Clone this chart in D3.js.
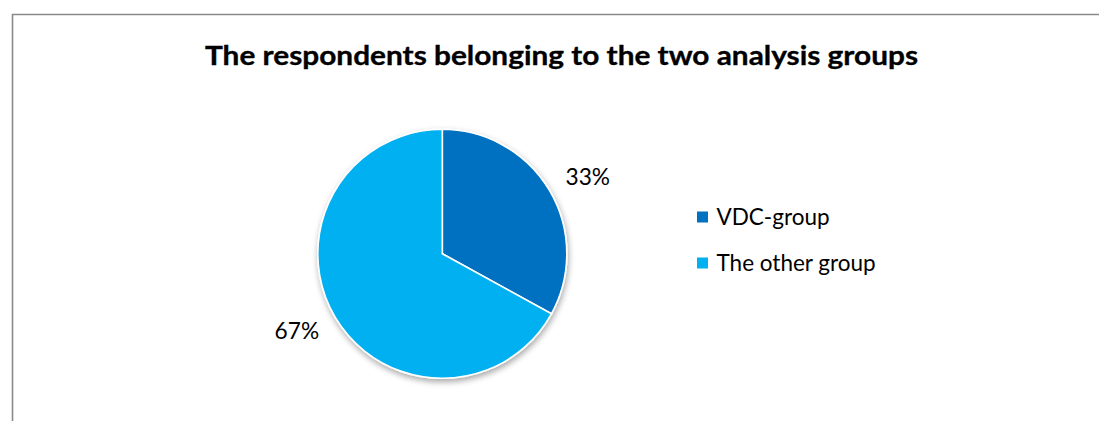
<!DOCTYPE html>
<html>
<head>
<meta charset="utf-8">
<script src="https://cdn.jsdelivr.net/npm/d3@7"></script>
<style>
  html, body { margin: 0; padding: 0; background: #ffffff; }
  svg { display: block; }
</style>
</head>
<body>
<svg id="chart" width="1099" height="421"></svg>
<script>
// Chart data
const title = "The respondents belonging to the two analysis groups";
const groups = ["VDC-group", "The other group"];
const shares = [33, 67];
const groupColors = ["#0070C0", "#00B0F0"];

const svg = d3.select("#chart");
const W = 1099, H = 421;

// Chart frame (only top and left edges fall inside the view)
svg.append("path")
  .attr("d", `M12.5,${H + 5} L12.5,14.5 L${W + 5},14.5`)
  .attr("fill", "none")
  .attr("stroke", "#8a8a8a")
  .attr("stroke-width", 1.6);

// Title
svg.append("text")
  .attr("x", 561.5)
  .attr("y", 64.5)
  .attr("text-anchor", "middle")
  .attr("font-family", "Lato, 'Open Sans', sans-serif")
  .attr("font-weight", 700)
  .attr("font-size", 27.5)
  .attr("fill", "#000")
  .attr("stroke", "#000")
  .attr("stroke-width", 0.35)
  .attr("textLength", 713)
  .attr("lengthAdjust", "spacingAndGlyphs")
  .text(title);

// Soft shadow under the pie
const defs = svg.append("defs");
const f = defs.append("filter").attr("id", "pieShadow")
  .attr("x", "-20%").attr("y", "-20%").attr("width", "140%").attr("height", "140%");
f.append("feGaussianBlur").attr("in", "SourceAlpha").attr("stdDeviation", 3).attr("result", "b");
f.append("feOffset").attr("in", "b").attr("dx", 1).attr("dy", 3).attr("result", "o");
f.append("feComponentTransfer").attr("in", "o").attr("result", "s")
  .append("feFuncA").attr("type", "linear").attr("slope", 0.35);
const m = f.append("feMerge");
m.append("feMergeNode").attr("in", "s");
m.append("feMergeNode").attr("in", "SourceGraphic");

// Pie
const cx = 442.3, cy = 253.8, r = 124.5;
const pie = d3.pie().sort(null).value(d => d)(shares);
const arc = d3.arc().innerRadius(0).outerRadius(r);
const color = d3.scaleOrdinal().domain(groups).range(groupColors);

const g = svg.append("g").attr("transform", `translate(${cx},${cy})`);
g.append("g").attr("filter", "url(#pieShadow)")
  .selectAll("path")
  .data(pie)
  .join("path")
  .attr("d", arc)
  .attr("fill", (d, i) => color(groups[i]))
  .attr("stroke", "#ffffff")
  .attr("stroke-width", 1.6)
  .attr("stroke-linejoin", "round");

// Percentage labels, placed just outside each slice along its mid-angle
const lrx = 169, lry = 151;
g.selectAll("text.pct")
  .data(pie)
  .join("text")
  .attr("class", "pct")
  .attr("x", d => Math.sin((d.startAngle + d.endAngle) / 2) * lrx)
  .attr("y", d => -Math.cos((d.startAngle + d.endAngle) / 2) * lry)
  .attr("dy", "0.36em")
  .attr("text-anchor", "middle")
  .attr("font-family", "Lato, 'Open Sans', sans-serif")
  .attr("font-size", 22.7)
  .attr("fill", "#000")
  .text(d => d.data + "%");

// Legend
const legend = svg.append("g").attr("transform", "translate(697,217)");
const row = legend.selectAll("g")
  .data(groups)
  .join("g")
  .attr("transform", (d, i) => `translate(0,${i * 46})`);
row.append("rect")
  .attr("x", 0).attr("y", -5.5)
  .attr("width", 11).attr("height", 11)
  .attr("fill", d => color(d));
row.append("text")
  .attr("x", 19.5)
  .attr("y", 7.5)
  .attr("font-family", "Lato, 'Open Sans', sans-serif")
  .attr("font-size", 22.5)
  .attr("fill", "#000")
  .text(d => d);
</script>
</body>
</html>
